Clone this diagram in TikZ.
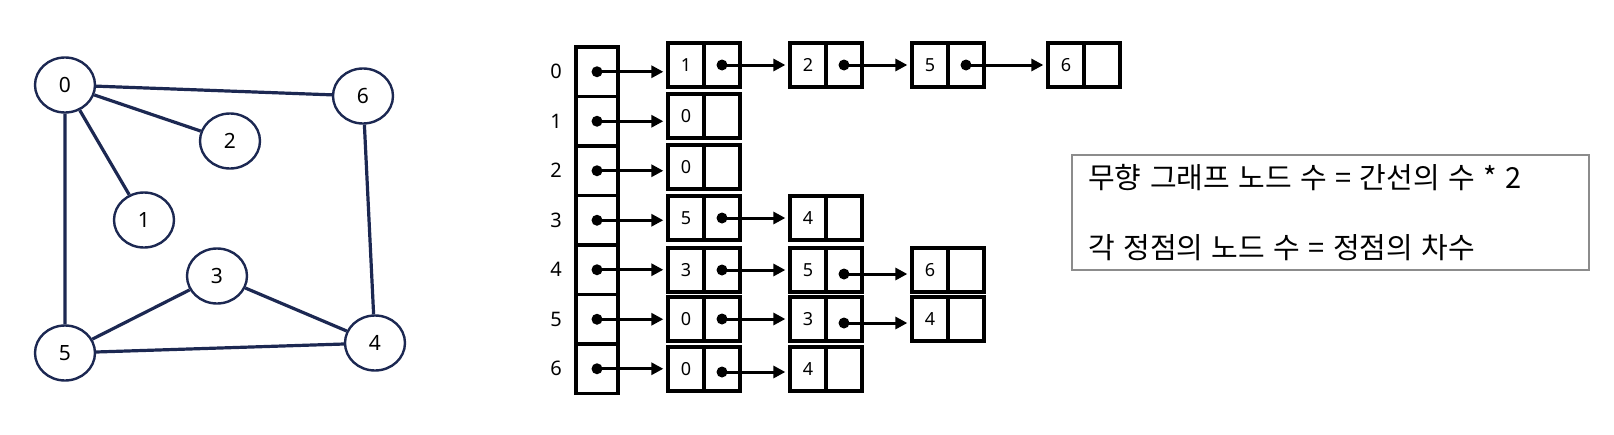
\documentclass[tikz,border=0pt]{standalone}
\usepackage{fontspec}
\setmainfont{Noto Sans}
\newfontfamily\krfont[WordSpace=1.3]{Noto Sans CJK KR}
\usepackage{tikz}
\usetikzlibrary{arrows.meta,shapes.geometric,positioning}
\definecolor{navy}{RGB}{28,40,82}
\definecolor{boxgray}{RGB}{140,140,140}
\tikzset{
	vert/.style = {ellipse, draw=navy, line width=2.4pt, minimum width=60pt, minimum height=55pt, inner sep=0pt, font=\fontsize{21}{24}\selectfont},
	g_edge/.style = {draw=navy, line width=3.2pt},
	arr_cell/.style = {rectangle, draw=black, line width=3.3pt, minimum width=42pt, minimum height=49.5pt, inner sep=0pt},
	lst_cell/.style = {rectangle, draw=black, line width=3.3pt, minimum width=36pt, minimum height=44pt, inner sep=0pt, font=\fontsize{18}{20}\selectfont},
	row_lbl/.style = {inner sep=0pt, font=\fontsize{20}{22}\selectfont},
	ptr/.style = {-{Triangle[length=12pt,width=12pt]}, line width=3pt, shorten >=3pt},
	note_box/.style = {rectangle, draw=boxgray, line width=2pt, minimum width=517pt, minimum height=115pt},
	note_txt/.style = {anchor=west, inner sep=0pt, font=\krfont\fontsize{29}{32}\selectfont}
}

\begin{document}
\begin{tikzpicture}[x=1pt,y=-1pt]
\useasboundingbox (0,0) rectangle (1614,434);

% undirected graph
\node [vert] (g0) at (65,85) {0};
\node [vert] (g6) at (363,96) {6};
\node [vert] (g2) at (230,141) {2};
\node [vert] (g1) at (144,220) {1};
\node [vert] (g3) at (217,276) {3};
\node [vert] (g5) at (65,353) {5};
\node [vert] (g4) at (375,343) {4};
\draw [g_edge] (g0) -- (g6) (g0) -- (g2) (g0) -- (g1) (g0) -- (g5)
	(g5) -- (g3) (g3) -- (g4) (g5) -- (g4) (g6) -- (g4);

% adjacency array
\foreach \r in {0,...,6}{
	\node [arr_cell] (a\r) at (597,{71.75+49.5*\r}) {};
	\node [row_lbl] (l\r) at (556,{71.75+49.5*\r}) {\r};
}

% list nodes: row/col/left x/y/value
\foreach \r/\c/\x/\y/\v in {0/1/668/65/1, 0/2/790/65/2, 0/3/912/65/5, 0/4/1048/65/6,
	1/1/668/116/0, 2/1/668/167/0, 3/1/668/218/5, 3/2/790/218/4,
	4/1/668/270/3, 4/2/790/270/5, 4/3/912/270/6,
	5/1/668/319/0, 5/2/790/319/3, 5/3/912/319/4,
	6/1/668/369/0, 6/2/790/369/4}{
	\node [lst_cell] (v\r\c) at (\x+18,\y) {\v};
	\node [lst_cell] (p\r\c) at (\x+54,\y) {};
}

% head pointers
\foreach \r in {0,...,6}{
	\fill (a\r.center) circle (5.5);
	\draw [ptr] (a\r.center) -- (a\r.center -| v\r1.west);
}

% next pointers: row/col/next col/dot drop
\foreach \r/\c/\n/\dy in {0/1/2/0, 0/2/3/0, 0/3/4/0, 3/1/2/0, 4/1/2/0, 4/2/3/4,
	5/1/2/0, 5/2/3/4, 6/1/2/3}{
	\coordinate (d\r\c) at ([yshift=-\dy*1pt]p\r\c.center);
	\fill (d\r\c) circle (5.5);
	\draw [ptr] (d\r\c) -- (d\r\c -| v\r\n.west);
}

% note
\node [note_box] (box) at (1330.5,212.5) {};
\node [note_txt] (t1) at (1088,178) {무향 그래프 노드 수 = 간선의 수 * 2};
\node [note_txt] (t2) at (1088,248) {각 정점의 노드 수 = 정점의 차수};
\end{tikzpicture}
\end{document}
